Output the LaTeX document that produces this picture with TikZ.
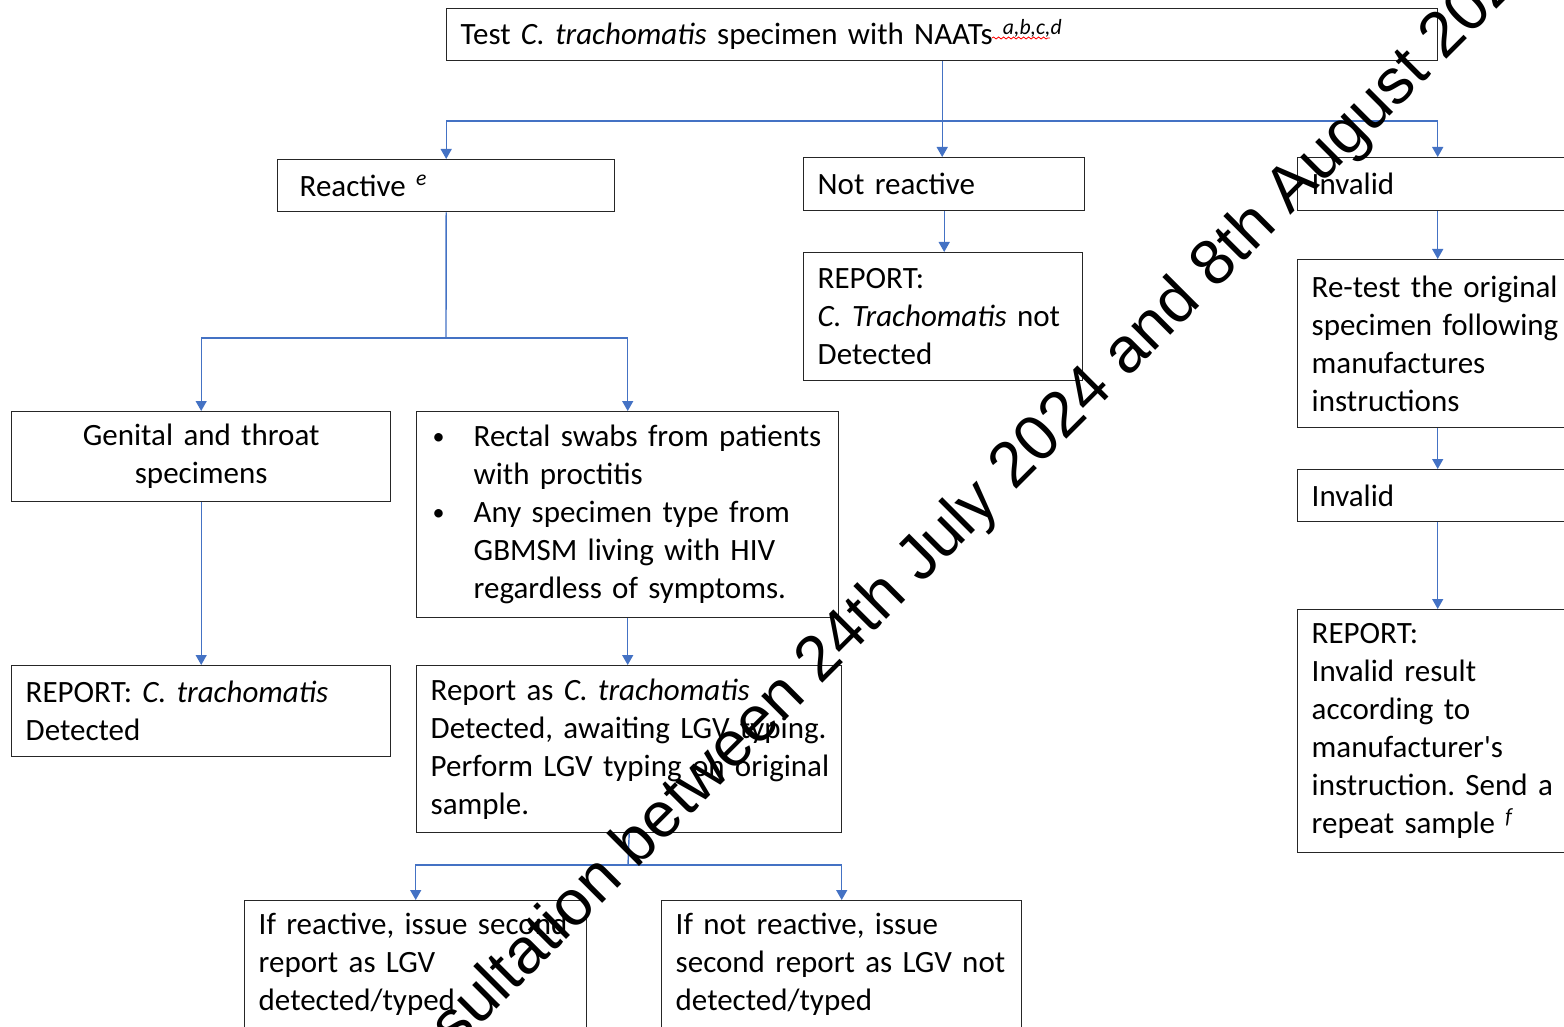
\documentclass[tikz,border=0pt]{standalone}
\usepackage{fontspec}
\setmainfont{Carlito}
\newfontfamily\wmfont{Liberation Sans}
\usetikzlibrary{arrows.meta,decorations.pathmorphing}
\definecolor{linkblue}{HTML}{4472C4}
\frenchspacing
\hyphenpenalty=10000

\begin{document}
\begin{tikzpicture}[x=0.5pt,y=-0.5pt,
  box/.style={draw=black!85, line width=0.7pt, anchor=north west, inner xsep=7pt, inner ysep=0pt,
    align=left, font=\fontsize{15.5}{19}\selectfont},
  link/.style={draw=linkblue, line width=0.7pt, -{Triangle[width=5.5pt,length=5pt]}},
  line/.style={draw=linkblue, line width=0.7pt}]
\useasboundingbox (0,0) rectangle (1564,1027);
\clip (0,0) rectangle (1564,1027);
\node[box, minimum width=495.5pt, minimum height=26pt, text width=481.5pt] (naat) at (446,8)
  {Test \textit{C. trachomatis} specimen with NAATs \textsuperscript{\textit{a,b,c,d}}};
\node[box, minimum width=168.5pt, minimum height=26pt, text width=154.5pt] (react) at (277,159)
  {\hspace*{4pt}Reactive \textsuperscript{\textit{e}}};
\node[box, minimum width=140.5pt, minimum height=26.5pt, text width=126.5pt] (nreact) at (803,157) {Not reactive};
\node[box, minimum width=140pt, minimum height=26.5pt, text width=126pt] (inval) at (1297,157) {Invalid};
\node[box, minimum width=139.5pt, minimum height=64pt, text width=125.5pt] (nrep) at (803,252)
  {REPORT:\\ \textit{C. Trachomatis} not\\ Detected};
\node[box, minimum width=140pt, minimum height=84pt, text width=126pt] (retest) at (1297,259)
  {Re-test the original\\ specimen following\\ manufactures\\ instructions};
\node[box, minimum width=140pt, minimum height=26pt, text width=126pt] (inval2) at (1297,469) {Invalid};
\node[box, minimum width=140pt, minimum height=121.5pt, text width=126pt] (irep) at (1297,609)
  {REPORT:\\ Invalid result\\ according to\\ manufacturer\textquotesingle s\\ instruction. Send a\\ repeat sample \textsuperscript{\textit{f}}};
\node[box, align=center, minimum width=189.5pt, minimum height=45pt, text width=175.5pt] (genit) at (11,411)
  {Genital and throat\\ specimens};
\node[box, minimum width=211pt, minimum height=103pt, text width=197pt] (rectal) at (416,411)
  {\makebox[21.5pt][l]{\hspace*{1pt}\fontsize{12}{12}\selectfont\raisebox{1pt}{\textbullet}}Rectal swabs from patients\\
   \hspace*{21.5pt}with proctitis\\
   \makebox[21.5pt][l]{\hspace*{1pt}\fontsize{12}{12}\selectfont\raisebox{1pt}{\textbullet}}Any specimen type from\\
   \hspace*{21.5pt}GBMSM living with HIV\\
   \hspace*{21.5pt}regardless of symptoms.};
\node[box, minimum width=189.5pt, minimum height=45.5pt, text width=175.5pt] (crep) at (11,665)
  {REPORT: \textit{C. trachomatis}\\ Detected};
\node[box, inner xsep=6pt, minimum width=212.5pt, minimum height=83.5pt, text width=200.5pt] (lgvrep) at (416,665)
  {\hspace*{1pt}Report as \textit{C. trachomatis}\\ \hspace*{1pt}Detected, awaiting LGV typing.\\
   \hspace*{1pt}Perform LGV typing on original\\ \hspace*{1pt}sample.};
\node[box, minimum width=171pt, minimum height=64pt, text width=157pt] (lgvpos) at (244,900)
  {If reactive, issue second\\ report as LGV\\ detected/typed};
\node[box, minimum width=180pt, minimum height=64pt, text width=166pt] (lgvneg) at (661,900)
  {If not reactive, issue\\ second report as LGV not\\ detected/typed};
% spell check mark
\draw[red, line width=0.4pt, decorate, decoration={snake, amplitude=0.5pt, segment length=2.5pt}]
  (992,38) -- (1050,38);
% connectors
\coordinate (fork1) at (941,121);
\coordinate (fork2) at (446,338);
\coordinate (fork3) at (628,865);
\draw[link] (naat.south) -- (naat.south |- nreact.north);
\draw[link] (fork1) -| (react.north);
\draw[link] (fork1) -| (inval.north);
\draw[link] (nreact.south) -- (nreact.south |- nrep.north);
\draw[link] (inval.south) -- (retest.north);
\draw[link] (retest.south) -- (inval2.north);
\draw[link] (inval2.south) -- (irep.north);
\draw[line] (react.south) -- (fork2);
\draw[link] (fork2) -| (genit.north);
\draw[link] (fork2) -| (rectal.north);
\draw[link] (genit.south) -- (crep.north);
\draw[link] (rectal.south) -- (rectal.south |- lgvrep.north);
\draw[line] (lgvrep.south) -- (fork3);
\draw[link] (fork3) -| (lgvpos.north);
\draw[link] (fork3) -| (lgvneg.north);
% watermark
\node[rotate=45, anchor=base, font=\wmfont\fontsize{32}{32}\selectfont] (wmark) at (964,542)
  {consultation between 24th July 2024 and 8th August 2024};
\end{tikzpicture}
\end{document}
